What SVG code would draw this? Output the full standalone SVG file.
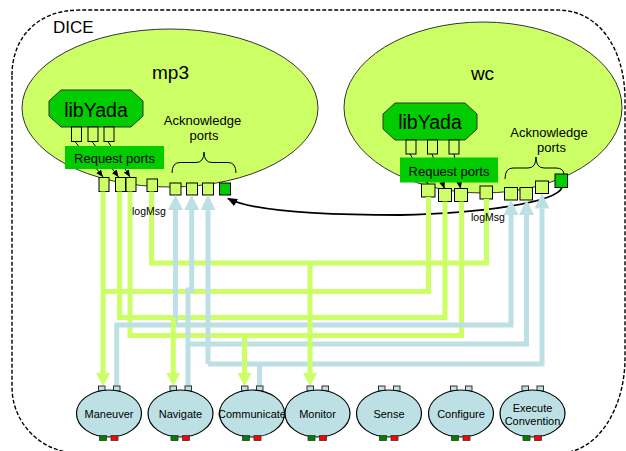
<svg xmlns="http://www.w3.org/2000/svg" width="626" height="451" viewBox="0 0 626 451">
<style>
.t{font-family:"Liberation Sans",Arial,sans-serif;fill:#000}
.port{fill:#CCFF66;stroke:#000;stroke-width:1}
.gport{fill:#00CC00;stroke:#000;stroke-width:1}
.cont{fill:#CCFF66;stroke:#333;stroke-width:1}
.oct{fill:#00CC00;stroke:#333;stroke-width:1}
.box{fill:#00CC00}
.brace{fill:none;stroke:#000;stroke-width:1}
.g{fill:none;stroke:#CCFF66;stroke-width:5}
.b{fill:none;stroke:#BCE0E4;stroke-width:5}
.k{fill:none;stroke:#000;stroke-width:1.8}
.ks{fill:none;stroke:#000;stroke-width:1}
.node ellipse{fill:#BCE0E4;stroke:#000;stroke-width:1.2}
.tp{fill:#BCE0E4;stroke:#333;stroke-width:1}
.pg{fill:#008000;stroke:#333;stroke-width:0.8}
.pr{fill:#FF0000;stroke:#333;stroke-width:0.8}
</style>
<defs>
<marker id="ag" markerUnits="userSpaceOnUse" viewBox="0 0 13 14" markerWidth="13" markerHeight="14" refX="0" refY="7" orient="auto"><path d="M0,0 L13,7 L0,14 Z" fill="#CCFF66"/></marker>
<marker id="ab" markerUnits="userSpaceOnUse" viewBox="0 0 15 15" markerWidth="15" markerHeight="15" refX="0" refY="7.5" orient="auto"><path d="M0,0 L15,7.5 L0,15 Z" fill="#BCE0E4"/></marker>
<marker id="ak" markerUnits="userSpaceOnUse" viewBox="0 0 10 8" markerWidth="10" markerHeight="8" refX="9" refY="4" orient="auto"><path d="M0,0 L10,4 L0,8 Z" fill="#000"/></marker>
<marker id="as" markerUnits="userSpaceOnUse" viewBox="0 0 7 6" markerWidth="7" markerHeight="6" refX="7" refY="3" orient="auto"><path d="M0,0 L7,3 L0,6 Z" fill="#000"/></marker>
</defs>

<g id="dice">
<path d="M12,75 C12,40 35,10 80,10 L557,10 C600,10 625,50 625,100 L625,358 A65,95 0 0 1 560,453 L78,453 A66,66 0 0 1 12,387 Z" fill="none" stroke="#000" stroke-width="1.4" stroke-dasharray="4,2"/>
<text class="t" x="53" y="33" font-size="17">DICE</text>
</g>

<g id="mp3">
<ellipse class="cont" cx="170" cy="108" rx="148" ry="79"/>
<text class="t" x="170.5" y="79" font-size="19" text-anchor="middle">mp3</text>
<polygon class="oct" points="61,90 131,90 143,101 143,116 131,127 61,127 49,116 49,101"/>
<text class="t" x="96" y="117" font-size="19.5" text-anchor="middle">libYada</text>
<rect class="port" x="71.5" y="127" width="10" height="14.5"/>
<rect class="port" x="88" y="127" width="10" height="14.5"/>
<rect class="port" x="104" y="127" width="10" height="14.5"/>
<line class="ks" x1="75" y1="141.5" x2="103" y2="177" marker-end="url(#as)"/>
<line class="ks" x1="92" y1="141.5" x2="118.5" y2="177" marker-end="url(#as)"/>
<line class="ks" x1="108" y1="141.5" x2="130" y2="177" marker-end="url(#as)"/>
<rect class="box" x="65" y="146" width="99" height="23"/>
<text class="t" x="114.5" y="163" font-size="13" text-anchor="middle">Request ports</text>
<text class="t" x="202.5" y="125" font-size="13" text-anchor="middle">Acknowledge</text>
<text class="t" x="204" y="140" font-size="13" text-anchor="middle">ports</text>
<path class="brace" d="M172,173 Q172,162.5 180,162.5 L196,162.5 Q204,162.5 204,152 Q204,162.5 212,162.5 L228,162.5 Q236,162.5 236,173"/>
<rect class="port" x="99" y="177.5" width="10" height="14"/>
<rect class="port" x="115.5" y="177.5" width="10" height="14"/>
<rect class="port" x="126" y="177.5" width="10" height="14"/>
<rect class="port" x="147" y="179" width="10.5" height="12.5"/>
<rect class="port" x="170" y="183" width="11" height="12"/>
<rect class="port" x="186.5" y="183" width="11" height="12"/>
<rect class="port" x="202.5" y="183" width="11" height="12"/>
<rect class="gport" x="219.5" y="183" width="11" height="12"/>
</g>

<g id="wc">
<ellipse class="cont" cx="483" cy="107.5" rx="139" ry="85.5"/>
<text class="t" x="482.5" y="80" font-size="19" text-anchor="middle">wc</text>
<polygon class="oct" points="395,103 465,103 477,114 477,129 465,140 395,140 383,129 383,114"/>
<text class="t" x="430" y="128.5" font-size="19.5" text-anchor="middle">libYada</text>
<rect class="port" x="406" y="140" width="10" height="14"/>
<rect class="port" x="427.5" y="140" width="10" height="14"/>
<rect class="port" x="449" y="140" width="10" height="14"/>
<line class="ks" x1="410" y1="154" x2="428" y2="184" marker-end="url(#as)"/>
<line class="ks" x1="432" y1="154" x2="444.5" y2="188.5" marker-end="url(#as)"/>
<line class="ks" x1="454" y1="154" x2="460.5" y2="188.5" marker-end="url(#as)"/>
<rect class="box" x="400" y="157.5" width="98" height="25"/>
<text class="t" x="449" y="175.5" font-size="13" text-anchor="middle">Request ports</text>
<text class="t" x="549" y="137" font-size="13" text-anchor="middle">Acknowledge</text>
<text class="t" x="551.5" y="152" font-size="13" text-anchor="middle">ports</text>
<path class="brace" d="M505,179 Q505,168 513,168 L528,168 Q536,168 536,157 Q536,168 544,168 L556,168 Q564,168 564,175"/>
<rect class="port" x="421.5" y="184" width="13.5" height="13"/>
<rect class="port" x="438.5" y="188.5" width="13" height="13"/>
<rect class="port" x="454.5" y="188.5" width="13" height="13"/>
<rect class="port" x="480" y="186" width="12.5" height="13"/>
<rect class="port" x="504.5" y="187.5" width="13" height="12.5"/>
<rect class="port" x="520" y="187.5" width="12.5" height="12.5"/>
<rect class="port" x="535.5" y="181" width="13" height="12.5"/>
<rect class="gport" x="555" y="174" width="12.5" height="13.5"/>
</g>

<g id="connectors">
<path class="k" d="M562,187.5 C556,203 480,213 400,215 C310,215 250,210 228,198.5" marker-end="url(#ak)"/>
<path class="g" d="M428.5,197 V291.5 H103"/>
<path class="g" d="M119.5,191.5 V317.5 H445 V201.5"/>
<path class="g" d="M130,191.5 V335.5 H461.5 V201.5"/>
<path class="g" d="M151.5,191.5 V263 H486.5 V199"/>
<path class="b" d="M116.7,386 V325 H511 V215" marker-end="url(#ab)"/>
<path class="b" d="M175.5,325 V210" marker-end="url(#ab)"/>
<path class="b" d="M188,386 V290 H191.7 V210" marker-end="url(#ab)"/>
<path class="b" d="M188,344 H526.5 V215" marker-end="url(#ab)"/>
<path class="b" d="M208,364 V210" marker-end="url(#ab)"/>
<path class="b" d="M208,364 H542 V208.5" marker-end="url(#ab)"/>
<path class="b" d="M259.5,386 V364"/>
<path class="g" d="M103,191.5 V373" marker-end="url(#ag)"/>
<path class="g" d="M173.3,317.5 V373" marker-end="url(#ag)"/>
<path class="g" d="M244.5,335.5 V373" marker-end="url(#ag)"/>
<path class="g" d="M310,263 V373" marker-end="url(#ag)"/>
<text class="t" x="132" y="215" font-size="10.5">logMsg</text>
<text class="t" x="471" y="221" font-size="10.5">logMsg</text>
</g>

<g id="maneuver" class="node">
<rect class="tp" x="98.5" y="386" width="6.5" height="5"/><rect class="tp" x="113.5" y="386" width="6.5" height="5"/>
<ellipse cx="109" cy="413.5" rx="32.5" ry="23.5"/>
<rect class="pg" x="99.5" y="435.5" width="7" height="5"/><rect class="pr" x="111" y="435.5" width="7" height="5"/>
<text class="t" x="109" y="417.5" font-size="11" text-anchor="middle">Maneuver</text>
</g>
<g id="navigate" class="node">
<rect class="tp" x="170" y="386" width="6.5" height="5"/><rect class="tp" x="185" y="386" width="6.5" height="5"/>
<ellipse cx="180.5" cy="413.5" rx="32.5" ry="23.5"/>
<rect class="pg" x="171" y="435.5" width="7" height="5"/><rect class="pr" x="182.5" y="435.5" width="7" height="5"/>
<text class="t" x="180.5" y="417.5" font-size="11" text-anchor="middle">Navigate</text>
</g>
<g id="communicate" class="node">
<rect class="tp" x="241.5" y="386" width="6.5" height="5"/><rect class="tp" x="256.5" y="386" width="6.5" height="5"/>
<ellipse cx="252" cy="413.5" rx="32.5" ry="23.5"/>
<rect class="pg" x="242.5" y="435.5" width="7" height="5"/><rect class="pr" x="254" y="435.5" width="7" height="5"/>
<text class="t" x="252" y="417.5" font-size="11" text-anchor="middle">Communicate</text>
</g>
<g id="monitor" class="node">
<rect class="tp" x="307" y="386" width="6.5" height="5"/><rect class="tp" x="322" y="386" width="6.5" height="5"/>
<ellipse cx="317.5" cy="413.5" rx="32.5" ry="23.5"/>
<rect class="pg" x="308" y="435.5" width="7" height="5"/><rect class="pr" x="319.5" y="435.5" width="7" height="5"/>
<text class="t" x="317.5" y="417.5" font-size="11" text-anchor="middle">Monitor</text>
</g>
<g id="sense" class="node">
<rect class="tp" x="378.5" y="386" width="6.5" height="5"/><rect class="tp" x="393.5" y="386" width="6.5" height="5"/>
<ellipse cx="389" cy="413.5" rx="32.5" ry="23.5"/>
<rect class="pg" x="379.5" y="435.5" width="7" height="5"/><rect class="pr" x="391" y="435.5" width="7" height="5"/>
<text class="t" x="389" y="417.5" font-size="11" text-anchor="middle">Sense</text>
</g>
<g id="configure" class="node">
<rect class="tp" x="450.5" y="386" width="6.5" height="5"/><rect class="tp" x="465.5" y="386" width="6.5" height="5"/>
<ellipse cx="461" cy="413.5" rx="32.5" ry="23.5"/>
<rect class="pg" x="451.5" y="435.5" width="7" height="5"/><rect class="pr" x="463" y="435.5" width="7" height="5"/>
<text class="t" x="461" y="417.5" font-size="11" text-anchor="middle">Configure</text>
</g>
<g id="execute-convention" class="node">
<rect class="tp" x="522" y="386" width="6.5" height="5"/><rect class="tp" x="537" y="386" width="6.5" height="5"/>
<ellipse cx="532.5" cy="413.5" rx="32.5" ry="23.5"/>
<rect class="pg" x="523" y="435.5" width="7" height="5"/><rect class="pr" x="534.5" y="435.5" width="7" height="5"/>
<text class="t" x="532.5" y="411.5" font-size="11" text-anchor="middle">Execute</text>
<text class="t" x="532.5" y="425" font-size="11" text-anchor="middle">Convention</text>
</g>
</svg>
